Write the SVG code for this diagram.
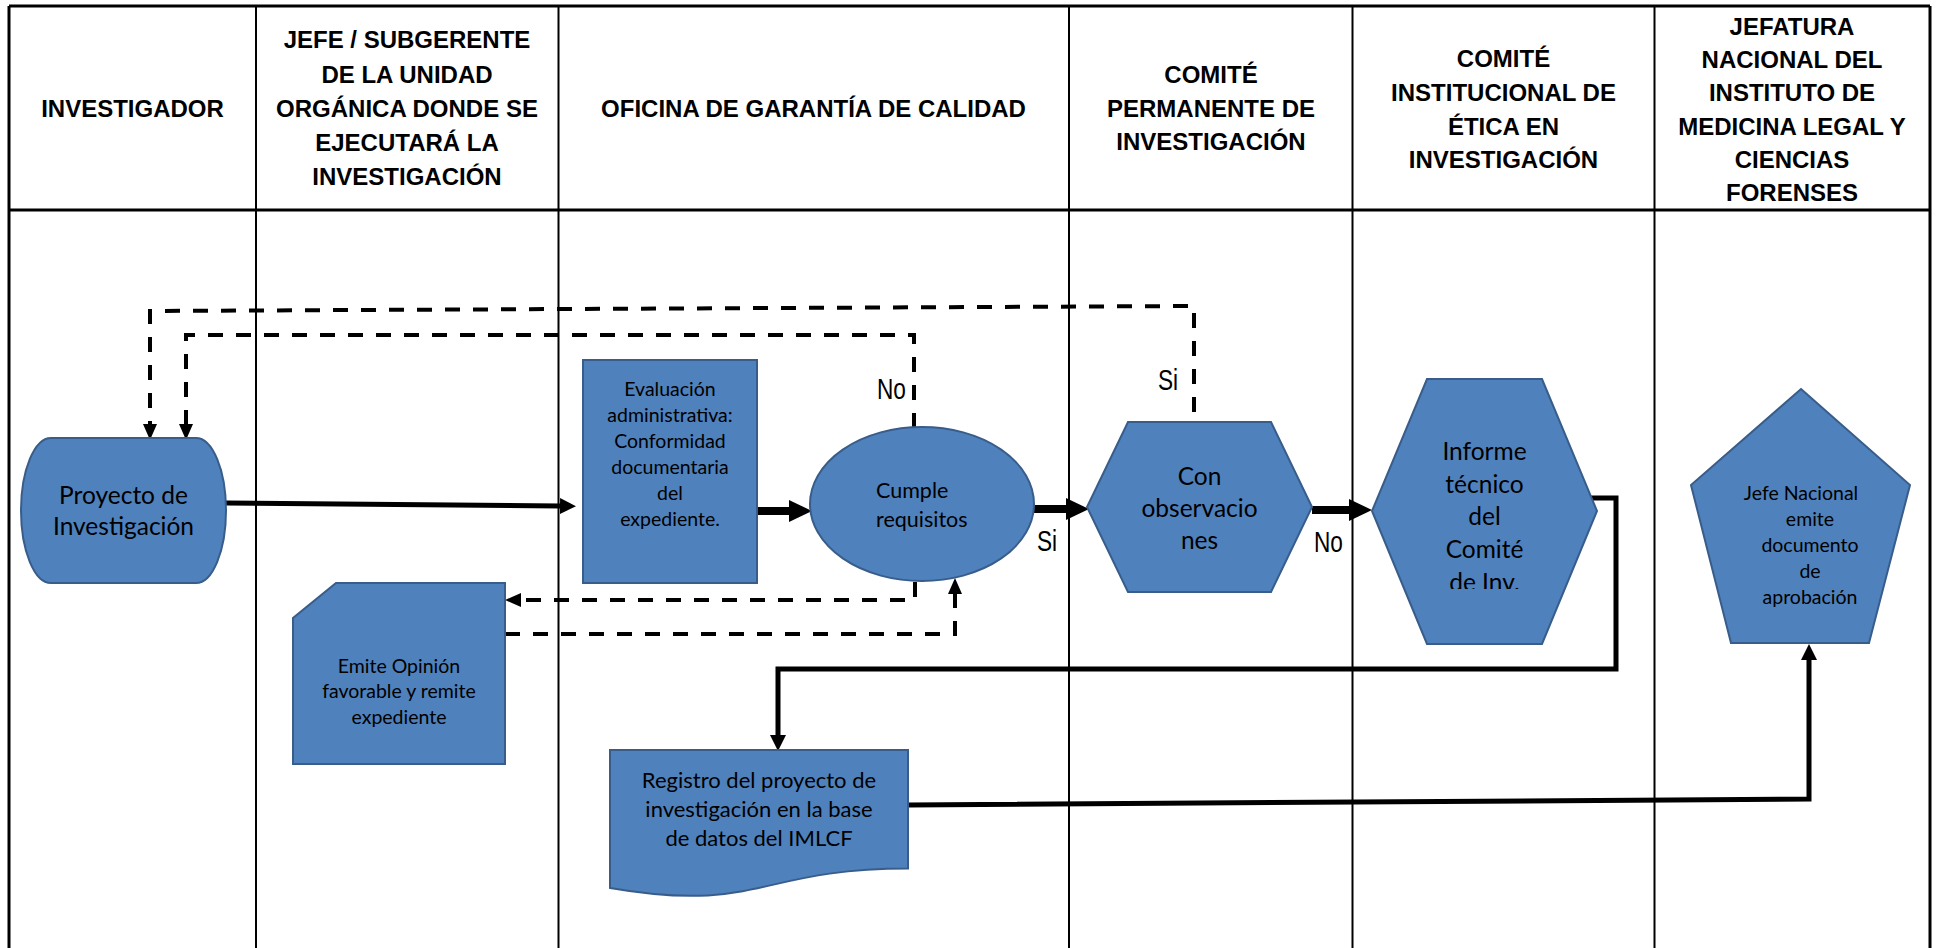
<svg xmlns="http://www.w3.org/2000/svg" width="1937" height="948" viewBox="0 0 1937 948">
<style>
.hdr{font-family:"Liberation Sans",Arial,sans-serif;font-weight:bold;font-size:24px;fill:#000;text-anchor:middle}
.lane{stroke:#000;stroke-width:2;fill:none}
.outer{stroke:#000;stroke-width:3;fill:none}
.shape{fill:#4F81BD;stroke:#385D8A;stroke-width:2}
.t{font-family:Lato,"Open Sans",sans-serif;fill:#000;text-anchor:middle}
.ts{font-family:Lato,"Open Sans",sans-serif;fill:#000;text-anchor:start}
.lbl{font-family:"Liberation Sans",Arial,sans-serif;font-size:29px;fill:#000}
.solid{fill:none;stroke:#000}
.dash{fill:none;stroke:#000;stroke-width:4;stroke-dasharray:15 13}
</style>
<defs>
<marker id="arL" markerUnits="userSpaceOnUse" markerWidth="24" markerHeight="22" refX="0" refY="11" orient="auto" viewBox="0 0 24 22"><path d="M0,0 L23,11 L0,22 Z" fill="#000"/></marker>
<marker id="arM" markerUnits="userSpaceOnUse" markerWidth="17" markerHeight="16" refX="0" refY="8" orient="auto" viewBox="0 0 17 16"><path d="M0,0 L16,8 L0,16 Z" fill="#000"/></marker>
<marker id="arS" markerUnits="userSpaceOnUse" markerWidth="17" markerHeight="14" refX="0" refY="7" orient="auto" viewBox="0 0 17 14"><path d="M0,0 L16,7 L0,14 Z" fill="#000"/></marker>
<clipPath id="clipInf"><rect x="1360" y="370" width="250" height="219"/></clipPath>
</defs>
<rect width="1937" height="948" fill="#fff"/>

<g id="lanes">
<line class="outer" x1="9" y1="6" x2="1930" y2="6"/>
<line class="outer" x1="9" y1="6" x2="9" y2="948"/>
<line class="outer" x1="1930" y1="6" x2="1930" y2="948"/>
<line class="outer" x1="9" y1="210" x2="1930" y2="210"/>
<line class="lane" x1="256" y1="6" x2="256" y2="948"/>
<line class="lane" x1="558.5" y1="6" x2="558.5" y2="948"/>
<line class="lane" x1="1069" y1="6" x2="1069" y2="948"/>
<line class="lane" x1="1352.5" y1="6" x2="1352.5" y2="948"/>
<line class="lane" x1="1654.5" y1="6" x2="1654.5" y2="948"/>
</g>

<g id="headers">
<text class="hdr" x="132.5" y="117">INVESTIGADOR</text>
<text class="hdr" x="407" y="48">JEFE / SUBGERENTE</text>
<text class="hdr" x="407" y="83">DE LA UNIDAD</text>
<text class="hdr" x="407" y="117">ORGÁNICA DONDE SE</text>
<text class="hdr" x="407" y="151">EJECUTARÁ LA</text>
<text class="hdr" x="407" y="185">INVESTIGACIÓN</text>
<text class="hdr" x="813.5" y="117">OFICINA DE GARANTÍA DE CALIDAD</text>
<text class="hdr" x="1211" y="83">COMITÉ</text>
<text class="hdr" x="1211" y="117">PERMANENTE DE</text>
<text class="hdr" x="1211" y="150">INVESTIGACIÓN</text>
<text class="hdr" x="1503.5" y="67">COMITÉ</text>
<text class="hdr" x="1503.5" y="101">INSTITUCIONAL DE</text>
<text class="hdr" x="1503.5" y="135">ÉTICA EN</text>
<text class="hdr" x="1503.5" y="168">INVESTIGACIÓN</text>
<text class="hdr" x="1792" y="35">JEFATURA</text>
<text class="hdr" x="1792" y="68">NACIONAL DEL</text>
<text class="hdr" x="1792" y="101">INSTITUTO DE</text>
<text class="hdr" x="1792" y="135">MEDICINA LEGAL Y</text>
<text class="hdr" x="1792" y="168">CIENCIAS</text>
<text class="hdr" x="1792" y="201">FORENSES</text>
</g>

<g id="connectors">
<path class="solid" stroke-width="5" d="M226,503 L560,506" marker-end="url(#arM)"/>
<path class="solid" stroke-width="8" d="M757,511 L789,511" marker-end="url(#arL)"/>
<path class="solid" stroke-width="8" d="M1034,509 L1066,509" marker-end="url(#arL)"/>
<path class="solid" stroke-width="8" d="M1312,510 L1349,510" marker-end="url(#arL)"/>
<path class="solid" stroke-width="5" d="M1591,498 H1616 V669 H778 V735" marker-end="url(#arM)"/>
<path class="solid" stroke-width="5" d="M909,805 L1809,799 L1809,660" marker-end="url(#arM)"/>
<path class="dash" d="M914,428 V335 H186 V424" marker-end="url(#arS)"/>
<path class="dash" d="M1194,412 V306 L150,311 V424" marker-end="url(#arS)"/>
<path class="dash" d="M915,582 V600 H521" marker-end="url(#arS)"/>
<path class="dash" d="M505,634 H955 V594" marker-end="url(#arS)"/>
<text class="lbl" transform="translate(877,399) scale(0.78,1)">No</text>
<text class="lbl" transform="translate(1037,551) scale(0.78,1)">Si</text>
<text class="lbl" transform="translate(1314,552) scale(0.78,1)">No</text>
<text class="lbl" transform="translate(1158,390) scale(0.78,1)">Si</text>
</g>

<g id="n-proyecto">
<rect class="shape" x="21" y="438" width="205" height="145" rx="30" ry="72.5"/>
<text class="t" font-size="24.5" x="123.5" y="504">Proyecto de</text>
<text class="t" font-size="24.5" x="123.5" y="535">Investigación</text>
</g>

<g id="n-evaluacion">
<rect class="shape" x="583" y="360" width="174" height="223"/>
<text class="t" font-size="19.5" x="670" y="396">Evaluación</text>
<text class="t" font-size="19.5" x="670" y="422">administrativa:</text>
<text class="t" font-size="19.5" x="670" y="448">Conformidad</text>
<text class="t" font-size="19.5" x="670" y="474">documentaria</text>
<text class="t" font-size="19.5" x="670" y="500">del</text>
<text class="t" font-size="19.5" x="670" y="526">expediente.</text>
</g>

<g id="n-cumple">
<ellipse class="shape" cx="922" cy="504" rx="112" ry="77"/>
<text class="ts" font-size="21.5" x="876" y="498">Cumple</text>
<text class="ts" font-size="21.5" x="876" y="527">requisitos</text>
</g>

<g id="n-observaciones">
<polygon class="shape" points="1128,422 1271,422 1312,507 1271,592 1128,592 1087,507"/>
<text class="t" font-size="24.5" x="1199.5" y="485">Con</text>
<text class="t" font-size="24.5" x="1199.5" y="517">observacio</text>
<text class="t" font-size="24.5" x="1199.5" y="549">nes</text>
</g>

<g id="n-informe">
<polygon class="shape" points="1427,379 1542,379 1597,511 1542,644 1427,644 1372,511"/>
<g clip-path="url(#clipInf)">
<text class="t" font-size="24.5" x="1484.5" y="460">Informe</text>
<text class="t" font-size="24.5" x="1484.5" y="492.5">técnico</text>
<text class="t" font-size="24.5" x="1484.5" y="525">del</text>
<text class="t" font-size="24.5" x="1484.5" y="557.5">Comité</text>
<text class="t" font-size="24.5" x="1484.5" y="591">de Inv.</text>
</g>
</g>

<g id="n-jefe">
<polygon class="shape" points="1801,389 1910,485 1869,643 1731,643 1691,485"/>
<text class="t" font-size="19.5" x="1801" y="500">Jefe Nacional</text>
<text class="t" font-size="19.5" x="1810" y="526">emite</text>
<text class="t" font-size="19.5" x="1810" y="552">documento</text>
<text class="t" font-size="19.5" x="1810" y="578">de</text>
<text class="t" font-size="19.5" x="1810" y="604">aprobación</text>
</g>

<g id="n-emite">
<polygon class="shape" points="336,583 505,583 505,764 293,764 293,618"/>
<text class="t" font-size="19.5" x="399" y="673">Emite Opinión</text>
<text class="t" font-size="19.5" x="399" y="698">favorable y remite</text>
<text class="t" font-size="19.5" x="399" y="724">expediente</text>
</g>

<g id="n-registro">
<path class="shape" d="M610,750 H908 V868.5 C759,868.5 759,913.7 610,888 Z"/>
<text class="t" font-size="22" x="759" y="788">Registro del proyecto de</text>
<text class="t" font-size="22" x="759" y="817">investigación en la base</text>
<text class="t" font-size="22" x="759" y="846">de datos del IMLCF</text>
</g>
</svg>
